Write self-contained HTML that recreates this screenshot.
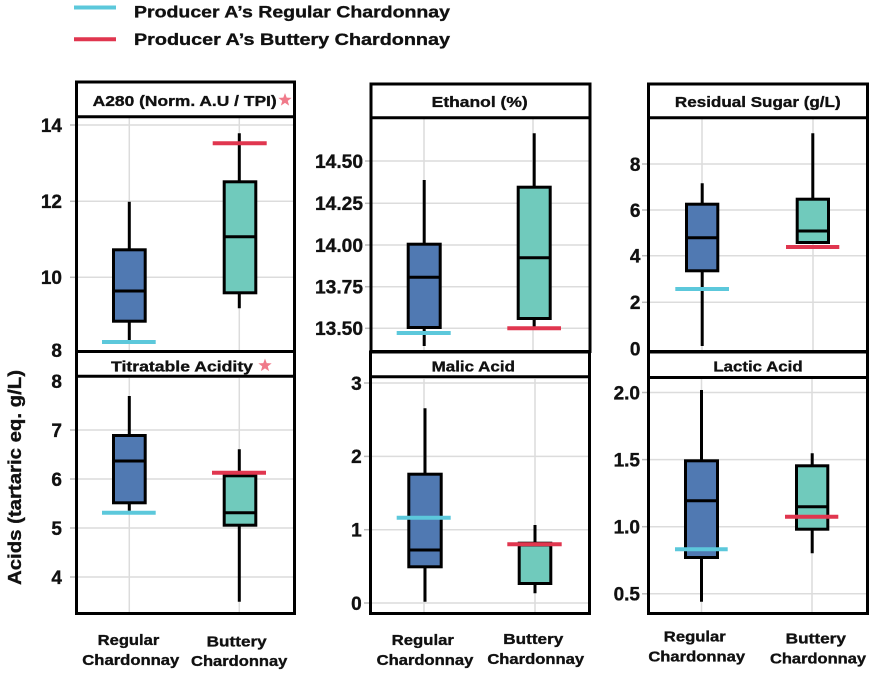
<!DOCTYPE html>
<html><head><meta charset="utf-8"><style>
html,body{margin:0;padding:0;background:#fff;}
svg{display:block;}
text{font-family:"Liberation Sans",Arial,sans-serif;font-weight:bold;fill:#111;stroke:#111;stroke-width:0.35;}
.tk{font-size:19px;text-anchor:end;}
.tt{font-size:15px;text-anchor:middle;}
.xl{font-size:15px;text-anchor:middle;}
.g{stroke:#dcdcdc;stroke-width:1.5;}
.w{stroke:#000;stroke-width:3;}
.bb{fill:#5079B2;stroke:#000;stroke-width:3;}
.bt{fill:#70CABC;stroke:#000;stroke-width:3;}
.m{stroke:#000;stroke-width:3;}
.c{stroke:#5CC8DB;stroke-width:4;}
.r{stroke:#E0364F;stroke-width:4;}
.f{fill:none;stroke:#000;stroke-width:3;}
.tm{stroke:#bbb;stroke-width:1.5;}
</style></head><body>
<svg width="882" height="675" viewBox="0 0 882 675" xmlns="http://www.w3.org/2000/svg">
<rect width="882" height="675" fill="#fff"/>

<!-- Legend -->
<line class="c" x1="74" y1="7.5" x2="116" y2="7.5"/>
<line class="r" x1="74" y1="39.3" x2="116" y2="39.3"/>
<text x="134" y="17.5" font-size="17" textLength="316" lengthAdjust="spacingAndGlyphs">Producer A’s Regular Chardonnay</text>
<text x="134" y="45" font-size="17" textLength="316" lengthAdjust="spacingAndGlyphs">Producer A’s Buttery Chardonnay</text>

<!-- Y axis label -->
<text transform="translate(21,477.5) rotate(-90)" font-size="18" text-anchor="middle" textLength="215" lengthAdjust="spacingAndGlyphs">Acids (tartaric eq. g/L)</text>

<!-- ============ Panel TL: A280 ============ -->
<g>
<line class="g" x1="78" y1="125" x2="293" y2="125"/>
<line class="g" x1="78" y1="201.3" x2="293" y2="201.3"/>
<line class="g" x1="78" y1="277.3" x2="293" y2="277.3"/>
<line class="g" x1="129.3" y1="118" x2="129.3" y2="350"/>
<line class="g" x1="239.3" y1="118" x2="239.3" y2="350"/>
<line class="tm" x1="70" y1="125" x2="76" y2="125"/>
<line class="tm" x1="70" y1="201.3" x2="76" y2="201.3"/>
<line class="tm" x1="70" y1="277.3" x2="76" y2="277.3"/>
<text class="tk" x="62" y="131.8">14</text>
<text class="tk" x="62" y="208">12</text>
<text class="tk" x="62" y="284">10</text>
<text class="tk" x="62" y="357">8</text>
<line class="w" x1="129.3" y1="201.7" x2="129.3" y2="340.7"/>
<rect class="bb" x="113.5" y="249.8" width="31.7" height="71.4"/>
<line class="m" x1="113.5" y1="291" x2="145.2" y2="291"/>
<line class="c" x1="102" y1="342" x2="155.7" y2="342"/>
<line class="w" x1="239.3" y1="133.3" x2="239.3" y2="308.3"/>
<rect class="bt" x="224.2" y="181.8" width="31.6" height="111"/>
<line class="m" x1="224.2" y1="236.7" x2="255.8" y2="236.7"/>
<line class="r" x1="212.7" y1="143.3" x2="266.7" y2="143.3"/>
<rect class="f" x="76.5" y="82" width="218" height="269.5"/>
<line class="f" x1="76.5" y1="116.7" x2="294.5" y2="116.7"/>
<text class="tt" x="184.7" y="106" textLength="184" lengthAdjust="spacingAndGlyphs">A280 (Norm. A.U / TPI)</text>
<polygon transform="translate(285,100)" fill="#F07A8A" points="0,-7 1.7,-2.35 6.66,-2.16 2.76,0.9 4.11,5.66 0,2.9 -4.11,5.66 -2.76,0.9 -6.66,-2.16 -1.7,-2.35"/>
</g>

<!-- ============ Panel TM: Ethanol ============ -->
<g>
<line class="g" x1="372" y1="161" x2="589" y2="161"/>
<line class="g" x1="372" y1="203.3" x2="589" y2="203.3"/>
<line class="g" x1="372" y1="245" x2="589" y2="245"/>
<line class="g" x1="372" y1="286.7" x2="589" y2="286.7"/>
<line class="g" x1="372" y1="328.3" x2="589" y2="328.3"/>
<line class="g" x1="424" y1="119" x2="424" y2="350"/>
<line class="g" x1="533" y1="119" x2="533" y2="350"/>
<line class="tm" x1="365" y1="161" x2="371" y2="161"/>
<line class="tm" x1="365" y1="203.3" x2="371" y2="203.3"/>
<line class="tm" x1="365" y1="245" x2="371" y2="245"/>
<line class="tm" x1="365" y1="286.7" x2="371" y2="286.7"/>
<line class="tm" x1="365" y1="328.3" x2="371" y2="328.3"/>
<text class="tk" x="363" y="167.8" textLength="48" lengthAdjust="spacingAndGlyphs">14.50</text>
<text class="tk" x="363" y="210" textLength="48" lengthAdjust="spacingAndGlyphs">14.25</text>
<text class="tk" x="363" y="251.8" textLength="48" lengthAdjust="spacingAndGlyphs">14.00</text>
<text class="tk" x="363" y="293.4" textLength="48" lengthAdjust="spacingAndGlyphs">13.75</text>
<text class="tk" x="363" y="335" textLength="48" lengthAdjust="spacingAndGlyphs">13.50</text>
<line class="w" x1="424.2" y1="180" x2="424.2" y2="346"/>
<rect class="bb" x="408.2" y="244.2" width="32" height="83.3"/>
<line class="m" x1="408.2" y1="277.3" x2="440.2" y2="277.3"/>
<line class="c" x1="396.7" y1="333" x2="450.7" y2="333"/>
<line class="w" x1="534.2" y1="133.3" x2="534.2" y2="326.7"/>
<rect class="bt" x="518.2" y="187.2" width="32" height="131.3"/>
<line class="m" x1="518.2" y1="257.7" x2="550.2" y2="257.7"/>
<line class="r" x1="507.3" y1="328.3" x2="561" y2="328.3"/>
<rect class="f" x="371" y="84" width="219" height="267.5"/>
<line class="f" x1="371" y1="117.7" x2="590" y2="117.7"/>
<text class="tt" x="479.7" y="107" textLength="96" lengthAdjust="spacingAndGlyphs">Ethanol (%)</text>
</g>

<!-- ============ Panel TR: Residual Sugar ============ -->
<g>
<line class="g" x1="650" y1="164" x2="866" y2="164"/>
<line class="g" x1="650" y1="210" x2="866" y2="210"/>
<line class="g" x1="650" y1="255.7" x2="866" y2="255.7"/>
<line class="g" x1="650" y1="302.3" x2="866" y2="302.3"/>
<line class="g" x1="702" y1="119" x2="702" y2="350"/>
<line class="g" x1="813" y1="119" x2="813" y2="350"/>
<line class="tm" x1="642" y1="164" x2="648" y2="164"/>
<line class="tm" x1="642" y1="210" x2="648" y2="210"/>
<line class="tm" x1="642" y1="255.7" x2="648" y2="255.7"/>
<line class="tm" x1="642" y1="302.3" x2="648" y2="302.3"/>
<text class="tk" x="640.5" y="170.8">8</text>
<text class="tk" x="640.5" y="216.8">6</text>
<text class="tk" x="640.5" y="262.5">4</text>
<text class="tk" x="640.5" y="309">2</text>
<text class="tk" x="640.5" y="355.7">0</text>
<line class="w" x1="702.2" y1="183.3" x2="702.2" y2="346"/>
<rect class="bb" x="686.5" y="204.2" width="31.3" height="66.6"/>
<line class="m" x1="686.5" y1="237.7" x2="717.8" y2="237.7"/>
<line class="c" x1="675.3" y1="289" x2="729" y2="289"/>
<line class="w" x1="812.8" y1="133.3" x2="812.8" y2="244"/>
<rect class="bt" x="797.2" y="199.2" width="31.3" height="43.3"/>
<line class="m" x1="797.2" y1="231" x2="828.5" y2="231"/>
<line class="r" x1="786" y1="247" x2="839.3" y2="247"/>
<rect class="f" x="648.5" y="84" width="219" height="267.5"/>
<line class="f" x1="648.5" y1="117.7" x2="867.5" y2="117.7"/>
<text class="tt" x="757.8" y="107" textLength="165.7" lengthAdjust="spacingAndGlyphs">Residual Sugar (g/L)</text>
</g>

<!-- ============ Panel BL: Titratable Acidity ============ -->
<g>
<line class="g" x1="78" y1="430" x2="293" y2="430"/>
<line class="g" x1="78" y1="479" x2="293" y2="479"/>
<line class="g" x1="78" y1="528" x2="293" y2="528"/>
<line class="g" x1="78" y1="577" x2="293" y2="577"/>
<line class="g" x1="129.3" y1="378" x2="129.3" y2="613"/>
<line class="g" x1="239.3" y1="378" x2="239.3" y2="613"/>
<line class="tm" x1="70" y1="430" x2="76" y2="430"/>
<line class="tm" x1="70" y1="479" x2="76" y2="479"/>
<line class="tm" x1="70" y1="528" x2="76" y2="528"/>
<line class="tm" x1="70" y1="577" x2="76" y2="577"/>
<text class="tk" x="62" y="388">8</text>
<text class="tk" x="62" y="436.8">7</text>
<text class="tk" x="62" y="485.8">6</text>
<text class="tk" x="62" y="534.8">5</text>
<text class="tk" x="62" y="583.8">4</text>
<line class="w" x1="129.3" y1="396" x2="129.3" y2="510.7"/>
<rect class="bb" x="113.5" y="435.5" width="31.7" height="67.3"/>
<line class="m" x1="113.5" y1="461" x2="145.2" y2="461"/>
<line class="c" x1="102" y1="512.7" x2="155.7" y2="512.7"/>
<line class="w" x1="239.3" y1="449.3" x2="239.3" y2="601.7"/>
<rect class="bt" x="224.2" y="475.8" width="31.6" height="49.4"/>
<line class="m" x1="224.2" y1="512.7" x2="255.8" y2="512.7"/>
<line class="r" x1="212" y1="472.7" x2="266" y2="472.7"/>
<rect class="f" x="76.5" y="351.5" width="218" height="262"/>
<line class="f" x1="76.5" y1="376.2" x2="294.5" y2="376.2"/>
<text class="tt" x="182" y="371.5" textLength="142" lengthAdjust="spacingAndGlyphs">Titratable Acidity</text>
<polygon transform="translate(265,365.5)" fill="#F07A8A" points="0,-7 1.7,-2.35 6.66,-2.16 2.76,0.9 4.11,5.66 0,2.9 -4.11,5.66 -2.76,0.9 -6.66,-2.16 -1.7,-2.35"/>
<text class="xl" x="128.5" y="645" textLength="61.6" lengthAdjust="spacingAndGlyphs">Regular</text>
<text class="xl" x="130.8" y="665" textLength="97" lengthAdjust="spacingAndGlyphs">Chardonnay</text>
<text class="xl" x="236.7" y="646.5" textLength="60" lengthAdjust="spacingAndGlyphs">Buttery</text>
<text class="xl" x="239.2" y="666" textLength="96.3" lengthAdjust="spacingAndGlyphs">Chardonnay</text>
</g>

<!-- ============ Panel BM: Malic Acid ============ -->
<g>
<line class="g" x1="372" y1="383" x2="589" y2="383"/>
<line class="g" x1="372" y1="456.4" x2="589" y2="456.4"/>
<line class="g" x1="372" y1="529.7" x2="589" y2="529.7"/>
<line class="g" x1="372" y1="603" x2="589" y2="603"/>
<line class="g" x1="424" y1="379" x2="424" y2="613"/>
<line class="g" x1="535" y1="379" x2="535" y2="613"/>
<line class="tm" x1="364" y1="383" x2="370" y2="383"/>
<line class="tm" x1="364" y1="456.4" x2="370" y2="456.4"/>
<line class="tm" x1="364" y1="529.7" x2="370" y2="529.7"/>
<line class="tm" x1="364" y1="603" x2="370" y2="603"/>
<text class="tk" x="361.7" y="389.8">3</text>
<text class="tk" x="361.7" y="463.2">2</text>
<text class="tk" x="361.7" y="536.5">1</text>
<text class="tk" x="361.7" y="609.8">0</text>
<line class="w" x1="425" y1="408.3" x2="425" y2="601.7"/>
<rect class="bb" x="408.8" y="474.2" width="32.4" height="92.6"/>
<line class="m" x1="408.8" y1="550" x2="441.2" y2="550"/>
<line class="c" x1="396.7" y1="517.7" x2="450.7" y2="517.7"/>
<line class="w" x1="535" y1="525" x2="535" y2="593.3"/>
<rect class="bt" x="519.2" y="543.2" width="31.6" height="40.3"/>
<line class="m" x1="519.2" y1="545" x2="550.8" y2="545"/>
<line class="r" x1="507.3" y1="544.3" x2="561.7" y2="544.3"/>
<rect class="f" x="370.5" y="352" width="219" height="261.5"/>
<line class="f" x1="370.5" y1="376.7" x2="589.5" y2="376.7"/>
<text class="tt" x="473.3" y="371.5" textLength="83.3" lengthAdjust="spacingAndGlyphs">Malic Acid</text>
<text class="xl" x="422.8" y="645" textLength="62.3" lengthAdjust="spacingAndGlyphs">Regular</text>
<text class="xl" x="425" y="665" textLength="96.7" lengthAdjust="spacingAndGlyphs">Chardonnay</text>
<text class="xl" x="533.3" y="644" textLength="60" lengthAdjust="spacingAndGlyphs">Buttery</text>
<text class="xl" x="535.7" y="664" textLength="96.7" lengthAdjust="spacingAndGlyphs">Chardonnay</text>
</g>

<!-- ============ Panel BR: Lactic Acid ============ -->
<g>
<line class="g" x1="650" y1="392.5" x2="866" y2="392.5"/>
<line class="g" x1="650" y1="459.6" x2="866" y2="459.6"/>
<line class="g" x1="650" y1="526.7" x2="866" y2="526.7"/>
<line class="g" x1="650" y1="593.8" x2="866" y2="593.8"/>
<line class="g" x1="701.5" y1="379" x2="701.5" y2="613"/>
<line class="g" x1="812" y1="379" x2="812" y2="613"/>
<line class="tm" x1="642" y1="392.5" x2="648" y2="392.5"/>
<line class="tm" x1="642" y1="459.6" x2="648" y2="459.6"/>
<line class="tm" x1="642" y1="526.7" x2="648" y2="526.7"/>
<line class="tm" x1="642" y1="593.8" x2="648" y2="593.8"/>
<text class="tk" x="640" y="399.3">2.0</text>
<text class="tk" x="640" y="466.4">1.5</text>
<text class="tk" x="640" y="533.5">1.0</text>
<text class="tk" x="640" y="600.6">0.5</text>
<line class="w" x1="701.5" y1="390" x2="701.5" y2="601.7"/>
<rect class="bb" x="685.5" y="460.8" width="32" height="96.7"/>
<line class="m" x1="685.5" y1="500.7" x2="717.5" y2="500.7"/>
<line class="c" x1="675" y1="549.3" x2="727.7" y2="549.3"/>
<line class="w" x1="812.2" y1="453.3" x2="812.2" y2="553.3"/>
<rect class="bt" x="796.5" y="465.8" width="31.3" height="63.4"/>
<line class="m" x1="796.5" y1="506.7" x2="827.8" y2="506.7"/>
<line class="r" x1="785" y1="516.7" x2="838.3" y2="516.7"/>
<rect class="f" x="648.5" y="352" width="219" height="261.5"/>
<line class="f" x1="648.5" y1="377.5" x2="867.5" y2="377.5"/>
<text class="tt" x="758" y="371.7" textLength="89.3" lengthAdjust="spacingAndGlyphs">Lactic Acid</text>
<text class="xl" x="694.8" y="641.7" textLength="62" lengthAdjust="spacingAndGlyphs">Regular</text>
<text class="xl" x="696.7" y="661.7" textLength="96.7" lengthAdjust="spacingAndGlyphs">Chardonnay</text>
<text class="xl" x="815.8" y="643.3" textLength="60.3" lengthAdjust="spacingAndGlyphs">Buttery</text>
<text class="xl" x="818" y="663.3" textLength="96" lengthAdjust="spacingAndGlyphs">Chardonnay</text>
</g>
</svg>
</body></html>
